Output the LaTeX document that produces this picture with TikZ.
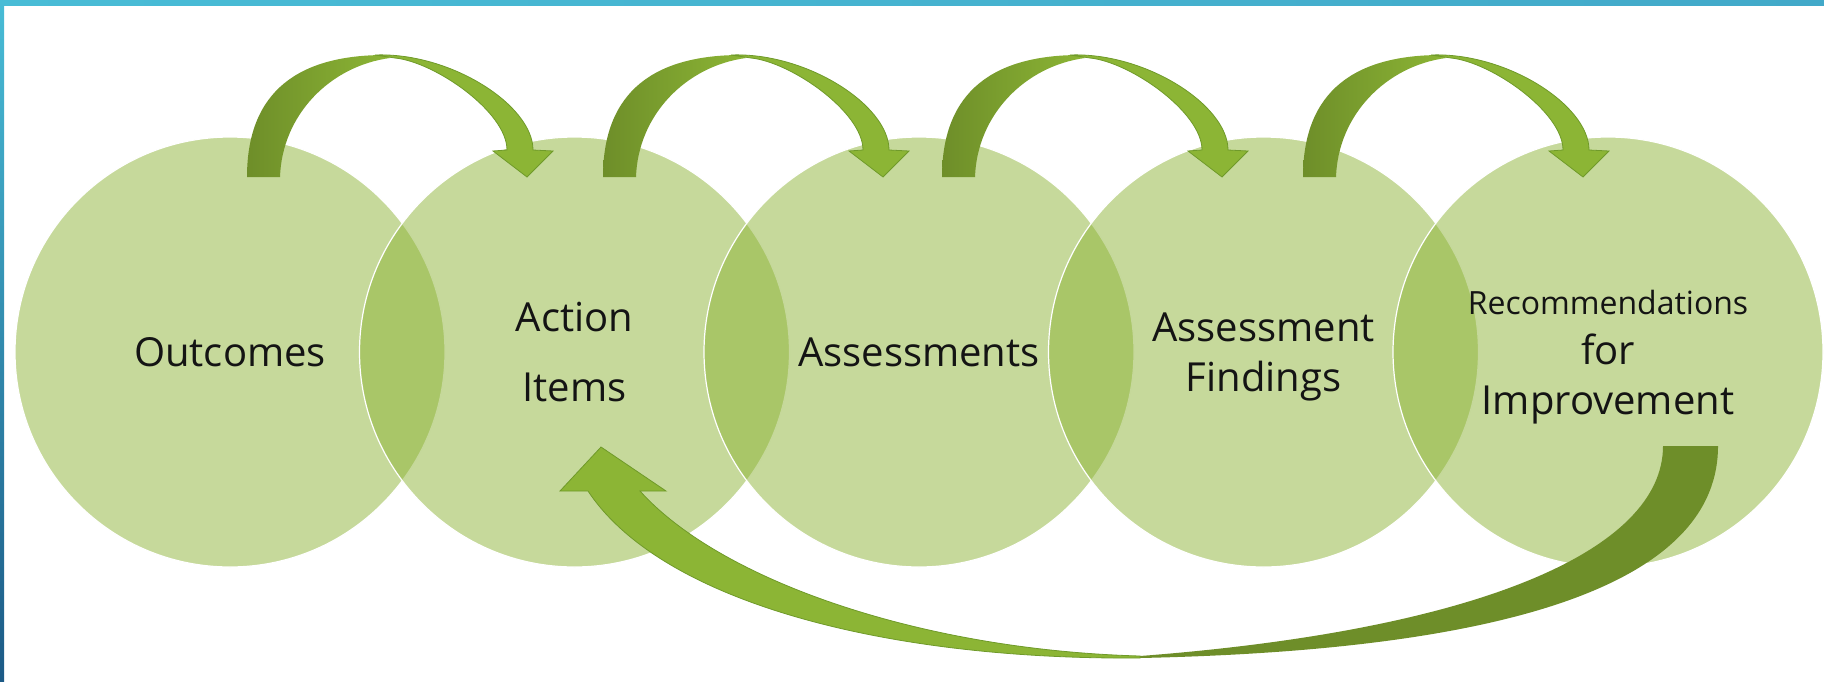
\documentclass[tikz,border=0pt]{standalone}
\usepackage{fontspec}
\setmainfont{Open Sans}
\definecolor{stagefill}{HTML}{8DB337}
\definecolor{hoplight}{HTML}{8CB535}
\definecolor{hopdark}{HTML}{6E8E29}
\definecolor{hopedge}{HTML}{6F9A2A}
\definecolor{labeltext}{HTML}{141414}
\definecolor{framelight}{HTML}{48BCD6}
\definecolor{framemid}{HTML}{42A9C9}
\definecolor{framedeep}{HTML}{1C5A86}
\tikzset{
  stage/.style={circle,minimum size=215pt,inner sep=0pt,fill=stagefill,fill opacity=.5,text opacity=1,
    draw=white,line width=.6pt,align=center,text=labeltext,font=\fontsize{20}{25}\selectfont},
  hop/.style={fill=hoplight,draw=hopedge,line width=.4pt},
}
\begin{document}
\begin{tikzpicture}[x=.5pt,y=-.5pt]
    \useasboundingbox (0,0) rectangle (1824,681);
    % frame
    \shade[left color=framelight,right color=framemid] (0,0) rectangle (1824,5);
    \shade[top color=framelight,bottom color=framedeep] (0,0) rectangle (4,681);

    % stages
    \node[stage] (outcomes) at (230,352) {Outcomes};
    \node[stage,font=\fontsize{20}{35}\selectfont] (action) at (574.5,352) {Action\\Items};
    \node[stage] (assess) at (919,352) {Assessments};
    \node[stage,text depth=0pt] (findings) at (1263.5,352) {Assessment\\Findings};
    \node[stage,text depth=0pt] (recomm) at (1608,352) {{\fontsize{16}{25}\selectfont Recommendations}\\for\\Improvement};

    % hops over the top
    \foreach \src/\dx in {outcomes/17,action/28.5,assess/23,findings/39.5}{
    \begin{scope}[shift={(\src.center)},shift={(\dx,-175)}]
        \shade[left color=hopdark,middle color=hopdark,right color=hoplight] (0,0) -- (33,0) .. controls (35,-62) and (83,-111) .. (143,-119) -- (138,-122) .. controls (53,-122) and (0,-87) .. (0,0) -- cycle;
        \filldraw[hop] (128,-122) .. controls (203,-125) and (286,-72) .. (286,-27) -- (306,-26) -- (280,0) -- (246,-26) -- (260,-27) .. controls (260,-65) and (188,-115) .. (148,-119) -- cycle;
    \end{scope}
    }

    % way back underneath
    \begin{scope}[shift={(recomm.center)}]
        \fill[hopdark] (-468,306) .. controls (-88,298) and (110,228) .. (110,94) -- (55,94) .. controls (55,198) and (-128,278) .. (-468,304) -- cycle;
    \end{scope}
    \begin{scope}[shift={(action.center)}]
        \filldraw[hop] (65.5,139) .. controls (145.5,228) and (345.5,298) .. (565.5,304) -- (565.5,306) .. controls (305.5,308) and (85.5,248) .. (13.5,139) -- (-14.5,139) -- (26.5,95) -- (91.5,139) -- cycle;
    \end{scope}
\end{tikzpicture}
\end{document}
